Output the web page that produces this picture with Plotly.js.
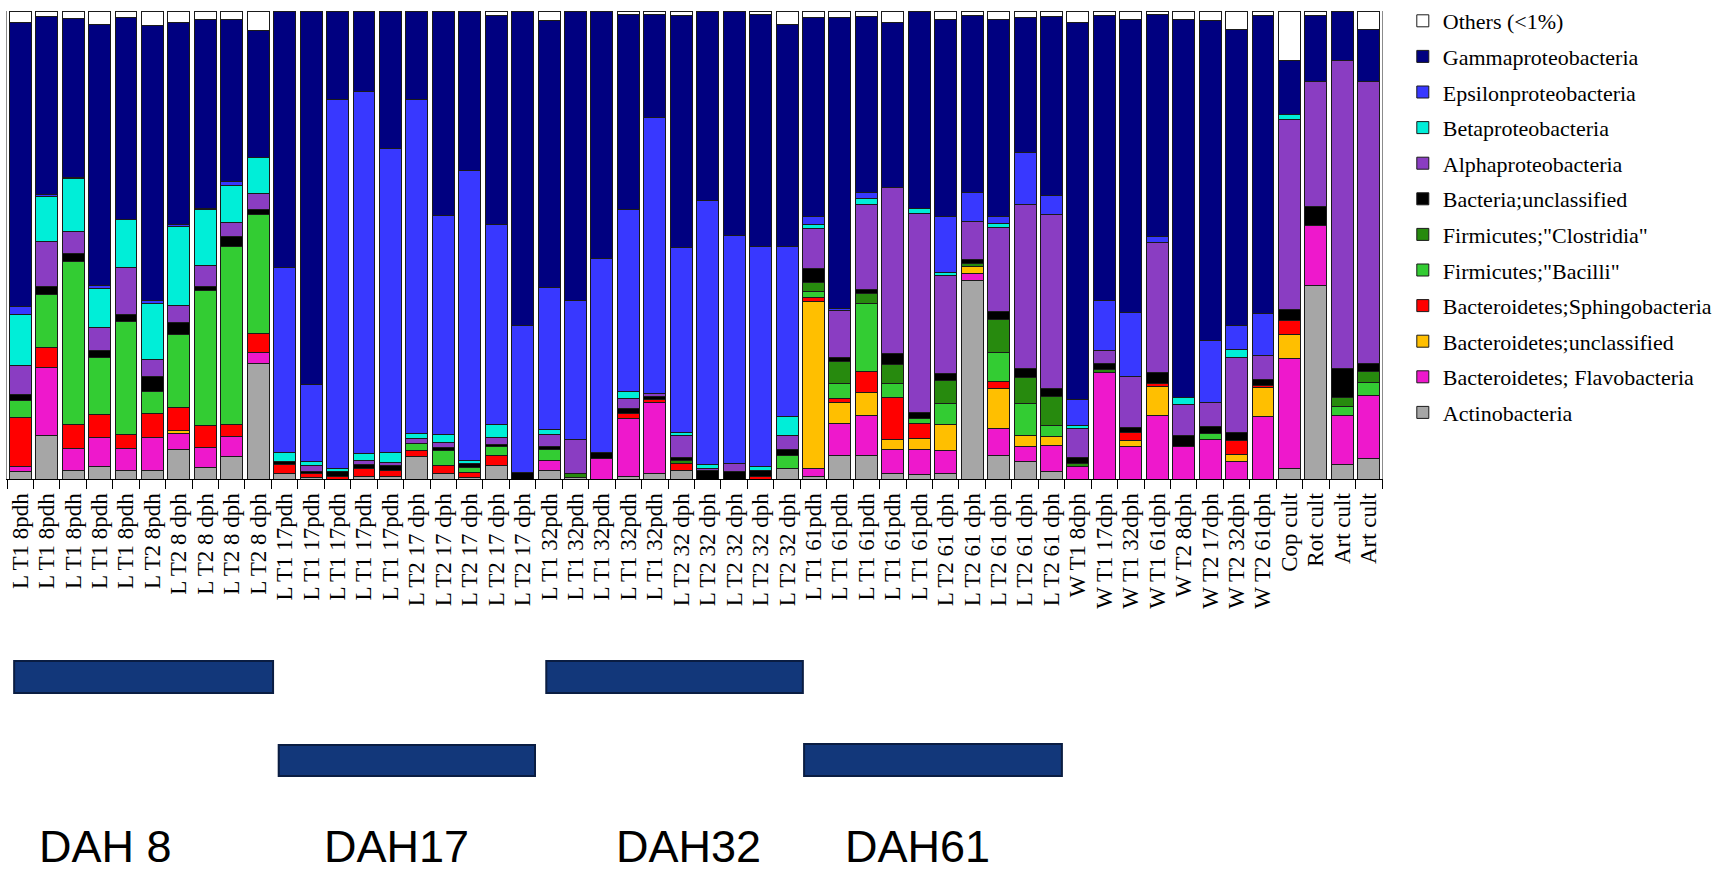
<!DOCTYPE html>
<html>
<head>
<meta charset="utf-8">
<script src="https://cdn.plot.ly/plotly-3.0.1.min.js"></script>
<style>html,body{margin:0;padding:0;background:#fff;}#chart{width:1734px;height:875px;}</style>
</head>
<body>
<div id="chart"></div>
<script>
// ---- Data ----
const sampleLabels = [
  "L T1 8pdh","L T1 8pdh","L T1 8pdh","L T1 8pdh","L T1 8pdh",
  "L T2 8pdh","L T2 8 dph","L T2 8 dph","L T2 8 dph","L T2 8 dph",
  "L T1 17pdh","L T1 17pdh","L T1 17pdh","L T1 17pdh","L T1 17pdh",
  "L T2 17 dph","L T2 17 dph","L T2 17 dph","L T2 17 dph","L T2 17 dph",
  "L T1 32pdh","L T1 32pdh","L T1 32pdh","L T1 32pdh","L T1 32pdh",
  "L T2 32 dph","L T2 32 dph","L T2 32 dph","L T2 32 dph","L T2 32 dph",
  "L T1 61pdh","L T1 61pdh","L T1 61pdh","L T1 61pdh","L T1 61pdh",
  "L T2 61 dph","L T2 61 dph","L T2 61 dph","L T2 61 dph","L T2 61 dph",
  "W T1 8dph","W T1 17dph","W T1 32dph","W T1 61dph",
  "W T2 8dph","W T2 17dph","W T2 32dph","W T2 61dph",
  "Cop cult","Rot cult","Art cult","Art cult"
];

const others = [2.5,1.1,1.6,2.8,1.4,3.0,2.5,1.8,1.8,4.1, 0,0,0,0,0,0,0,0,1.0,0, 2.1,0,0,0.7,0.7,0.9,0,0,0.7,2.8, 1.4,1.4,1.1,2.5,0,1.9,0.9,1.8,1.4,1.2, 2.5,0.9,1.8,0.7,1.8,2.1,3.9,0.9, 10.5,0.9,0,3.9];
const gamma = [60.7,38.1,33.9,55.7,43.0,58.9,43.2,40.3,34.7,27.2, 54.8,79.9,18.9,17.1,29.3,18.9,43.6,34.2,44.6,67.2, 57.0,61.8,52.9,41.7,22.1,49.6,40.4,47.9,49.5,47.6, 42.4,62.0,37.6,35.3,42.3,41.9,37.8,42.0,28.9,38.3, 80.5,61.0,62.7,47.5,80.8,68.2,63.2,63.6, 11.6,14.2,10.5,11.2];
const epsilon = [1.8,0.3,0.3,0.7,0,0.7,0.4,0.3,0.7,0, 39.3,16.6,78.7,77.4,64.9,71.2,46.8,62.0,42.7,31.3, 30.3,29.6,41.3,38.8,58.9,39.5,56.6,48.6,47.0,36.3, 1.8,0.5,1.4,0,0,12.0,6.3,1.4,11.0,4.0, 5.5,10.7,13.7,1.2,0,13.2,5.1,8.8, 0,0,0,0];
const beta = [10.8,9.8,11.3,8.4,10.3,11.8,16.9,12.0,8.0,7.8, 2.0,0.9,0.6,1.5,2.1,1.1,1.8,0.6,2.8,0, 1.0,0,0,1.6,0,0.7,0.7,0,0.7,3.9, 0.9,0,1.1,0,0.9,0.7,0,0.9,0,0, 0.7,0,0,0,1.4,0,1.6,0, 1.0,0,0,0];
const alpha = [6.3,9.6,4.8,4.8,10.0,3.8,3.6,4.4,3.0,3.3, 0,1.1,0,0.7,0.7,1.1,1.1,0,1.6,0, 2.7,7.3,0,2.2,0.7,4.8,0.5,1.8,0,3.0, 8.5,10.0,18.2,35.3,42.6,20.7,8.0,17.9,35.0,37.2, 6.1,2.7,10.7,27.8,6.6,5.1,15.9,5.2, 40.8,26.6,65.8,60.0];
const bacteriaUncl = [1.3,1.6,1.7,1.6,1.6,3.1,2.5,0.9,2.1,1.0, 0.7,0.5,1.1,0.9,1.0,0,0.6,0.9,0.4,1.4, 0.5,0,1.4,0.9,0.6,0.6,1.8,1.6,1.3,1.3, 3.0,0.9,0.9,2.5,1.2,1.7,0.9,1.8,2.0,1.6, 1.4,1.3,1.2,2.3,2.5,1.5,1.9,1.2, 2.4,4.0,6.1,1.8];
const clostridia = [0,0,0,0,0,0,0,0,0,0, 0,0,0,0,0,0,0,0,0,0, 0,0.7,0,0,0,0.6,0,0,0,0, 1.8,4.6,2.1,3.9,0,4.7,0.7,6.9,5.5,6.2, 0.7,0.7,0,0,0,0,0,0, 0,0,2.1,2.4];
const bacilli = [3.6,11.4,34.8,12.1,24.0,4.7,15.8,28.8,38.1,25.6, 0,0,0,0,0,1.6,3.2,1.1,1.8,0, 2.4,0,0,0,0,0,0,0,0,2.8, 1.3,3.3,14.5,3.0,1.1,4.6,0,6.3,6.8,2.5, 0,0,0,0,0,1.2,0,0, 0,0,1.9,2.6];
const sphingo = [10.5,4.3,5.0,4.9,3.1,5.1,4.8,4.8,2.5,3.9, 1.8,0.9,0.6,1.8,1.3,1.1,1.8,0.9,2.3,0, 0,0,0,1.1,0.7,1.4,0,0,0.6,0, 0.9,0.7,4.6,9.0,3.3,0,0,1.4,0,0, 0,0,1.6,0.7,0,0,2.8,0.6, 2.8,0,0,0];
const bacteroUncl = [0,0,0,0,0,0,0.7,0,0,0, 0,0,0,0,0,0,0,0,0,0, 0,0,0,0,0,0,0,0,0,0, 35.6,4.5,4.8,2.1,2.2,5.5,1.4,8.5,2.4,1.9, 0,0,1.4,6.3,0,0,1.6,6.1, 5.3,0,0,0];
const flavo = [1.1,14.4,4.8,6.3,4.6,7.0,3.4,4.3,4.3,2.4, 0,0,0,0,0,0,0,0,0,0, 2.1,0,4.3,12.5,15.1,0,0,0,0,0, 1.8,6.8,8.5,5.3,5.5,5.0,1.6,5.7,3.3,5.5, 2.6,22.7,6.9,13.5,6.9,8.5,3.7,13.3, 23.4,12.8,10.5,13.5];
const actino = [1.6,9.3,1.8,2.6,1.9,1.9,6.3,2.4,4.8,24.7, 1.2,0.3,0,0.5,0.5,4.9,1.1,0.4,2.8,0, 1.9,0.4,0,0.5,1.2,1.9,0,0,0,2.3, 0.5,5.1,5.1,1.1,0.9,1.1,42.4,5.1,3.7,1.6, 0,0,0,0,0,0,0,0, 2.3,41.2,3.0,4.4];

const groupLabels = ["DAH 8","DAH17","DAH32","DAH61"];

// ---- Series (bottom of stack first) ----
const series = [
  {name:"Actinobacteria", y:actino, color:"#a6a6a6"},
  {name:"Bacteroidetes; Flavobacteria", y:flavo, color:"#ee18cc"},
  {name:"Bacteroidetes;unclassified", y:bacteroUncl, color:"#ffbf00"},
  {name:"Bacteroidetes;Sphingobacteria", y:sphingo, color:"#ff0000"},
  {name:"Firmicutes;\"Bacilli\"", y:bacilli, color:"#33cc33"},
  {name:"Firmicutes;\"Clostridia\"", y:clostridia, color:"#278a0e"},
  {name:"Bacteria;unclassified", y:bacteriaUncl, color:"#000000"},
  {name:"Alphaproteobacteria", y:alpha, color:"#8a3dc2"},
  {name:"Betaproteobacteria", y:beta, color:"#00eed8"},
  {name:"Epsilonproteobacteria", y:epsilon, color:"#3838ff"},
  {name:"Gammaproteobacteria", y:gamma, color:"#000080"},
  {name:"Others (<1%)", y:others, color:"#ffffff"}
];

const xIdx = sampleLabels.map((_, i) => i);

const traces = series.map((s, k) => ({
  type: 'bar',
  name: s.name,
  x: xIdx,
  y: s.y,
  legendgroup: 'g' + k,
  legendrank: series.length - k,
  marker: {color: s.color, line: {color: '#1a1a1a', width: 1}},
  hoverinfo: 'name+y'
}));

// ---- Layout helpers ----
const rects = [
  {x0:0.0052, x1:0.1935, y0:-0.389, y1:-0.4575},
  {x0:0.1976, x1:0.3840, y0:-0.5685, y1:-0.6346},
  {x0:0.3922, x1:0.5788, y0:-0.389, y1:-0.4575},
  {x0:0.5797, x1:0.7672, y0:-0.5665, y1:-0.6346}
];
const textX = [0.0713, 0.2836, 0.4953, 0.6625];

const layout = {
  width: 1734, height: 875,
  margin: {l: 7, r: 352, t: 11, b: 396, pad: 0},
  paper_bgcolor: '#ffffff', plot_bgcolor: '#ffffff',
  barmode: 'stack', barnorm: 'percent', bargap: 0.17,
  showlegend: true,
  xaxis: {
    type: 'category',
    tickmode: 'array', tickvals: xIdx, ticktext: sampleLabels,
    tickson: 'boundaries', ticks: 'outside', ticklen: 9, tickwidth: 1, tickcolor: '#000',
    showline: true, linecolor: '#000', linewidth: 1,
    showgrid: false, zeroline: false,
    tickangle: -90,
    ticklabelstandoff: 4,
    tickfont: {family: '"Liberation Serif", "Times New Roman", serif', size: 23, color: '#000'},
    range: [-0.5, sampleLabels.length - 0.5]
  },
  yaxis: {
    range: [0, 100], showticklabels: false, showgrid: false, zeroline: false,
    ticks: '', showline: true, linecolor: '#8c8c8c', linewidth: 1, mirror: true
  },
  legend: {
    xref: 'container', yref: 'container',
    x: 0.809, y: 1, xanchor: 'left', yanchor: 'top',
    traceorder: 'grouped', tracegroupgap: 4,
    maxheight: 860,
    font: {family: '"Liberation Serif", "Times New Roman", serif', size: 22, color: '#000'},
    bgcolor: 'rgba(0,0,0,0)', borderwidth: 0
  },
  shapes: rects.map(r => ({
    type: 'rect', xref: 'paper', yref: 'paper',
    x0: r.x0, x1: r.x1, y0: r.y0, y1: r.y1,
    fillcolor: '#12377a', line: {color: '#0a1d42', width: 2}
  })),
  annotations: groupLabels.map((t, i) => ({
    text: t, xref: 'paper', yref: 'paper', x: textX[i], y: -0.785,
    xanchor: 'center', yanchor: 'middle', showarrow: false,
    font: {family: '"Liberation Sans", Arial, sans-serif', size: 45, color: '#000'}
  }))
};

Plotly.newPlot('chart', traces, layout, {displayModeBar: false, responsive: false});
</script>
</body>
</html>
